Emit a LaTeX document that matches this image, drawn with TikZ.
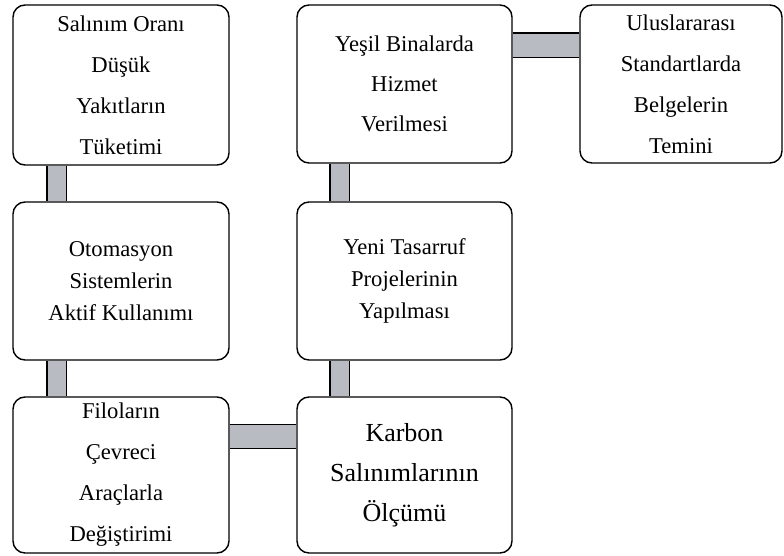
\documentclass[tikz,border=0pt]{standalone}
\usepackage{fontspec}
\setmainfont{Liberation Serif}
\usetikzlibrary{backgrounds}
\definecolor{borugri}{RGB}{184,187,194}
\tikzset{
  kutu/.style={draw=black,line width=1.4pt,rounded corners=12pt,fill=white,
    minimum width=216pt,minimum height=158pt,align=center,inner sep=2pt,
    font=\fontsize{22.6}{41}\selectfont},
  sikkutu/.style={kutu,font=\fontsize{22.6}{32}\selectfont},
  boru/.style={draw=black,line width=1.3pt,double=borugri,double distance=18.4pt},
  yatayboru/.style={boru,double distance=23pt}
}

\begin{document}
\begin{tikzpicture}[x=1pt,y=1pt]
\useasboundingbox (0,0) rectangle (784,555);
\node[kutu,minimum height=160pt] (salinim) at (121,470) {Salınım Oranı\\Düşük\\Yakıtların\\Tüketimi};
\node[sikkutu] (otomasyon) at (121,274) {Otomasyon\\Sistemlerin\\Aktif Kullanımı};
\node[kutu,minimum height=156pt] (filo) at (121,80) {Filoların\\Çevreci\\Araçlarla\\Değiştirimi};
\node[kutu,minimum width=215pt,font=\fontsize{22.6}{40}\selectfont] (yesil) at (404.5,471) {Yeşil Binalarda\\Hizmet\\Verilmesi};
\node[sikkutu,minimum width=215pt] (tasarruf) at (404.5,274) {Yeni Tasarruf\\Projelerinin\\Yapılması};
\node[kutu,minimum width=215pt,minimum height=156pt,font=\fontsize{26}{40}\selectfont] (karbon) at (404.5,80) {Karbon\\Salınımlarının\\Ölçümü};
\node[kutu,minimum width=202pt] (belge) at (681,471) {Uluslararası\\Standartlarda\\Belgelerin\\Temini};
% borular arkada
\begin{pgfonlayer}{background}
\draw [boru] ([xshift=44.5pt]salinim.south west) -- ([xshift=44.5pt]otomasyon.north west);
\draw [boru] ([xshift=44.5pt]otomasyon.south west) -- ([xshift=44.5pt]filo.north west);
\draw [yatayboru] ([yshift=-40pt]filo.north east) -- ([yshift=-40pt]karbon.north west);
\draw [boru] ([xshift=43.5pt]karbon.north west) -- ([xshift=43.5pt]tasarruf.south west);
\draw [boru] ([xshift=43.5pt]tasarruf.north west) -- ([xshift=43.5pt]yesil.south west);
\draw [yatayboru] ([yshift=-41pt]yesil.north east) -- ([yshift=-41pt]belge.north west);
\end{pgfonlayer}
\end{tikzpicture}
\end{document}
